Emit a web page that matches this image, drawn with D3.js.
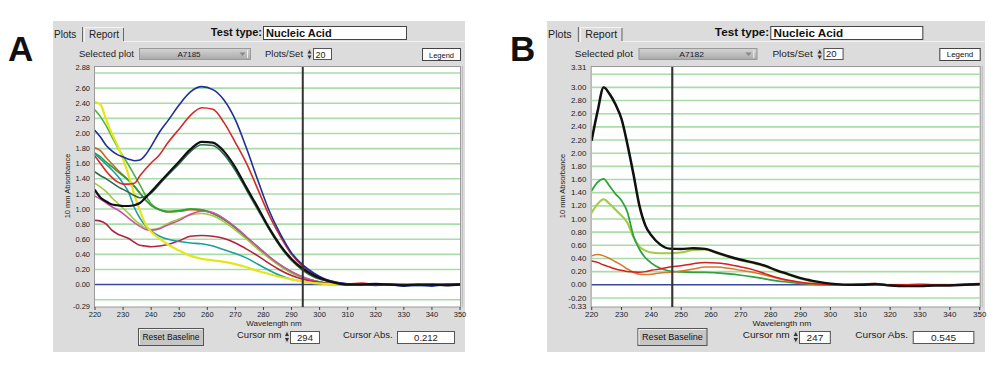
<!DOCTYPE html>
<html><head><meta charset="utf-8">
<script src="https://cdn.jsdelivr.net/npm/d3@7"></script>
<style>body{margin:0;background:#fff;} svg{display:block;font-family:"Liberation Sans",Arial,sans-serif;}</style>
</head><body>
<svg id="c" width="1000" height="371"></svg>
<script>
// ---------------- DATA ----------------
const wavelengths = [220,222,224,226,228,230,232,234,236,238,240,243,246,250,254,258,262,266,270,274,278,282,286,290,294,298,302,306,310,315,320,325,330,335,340,345,350];
const xTickLabels = [220,230,240,250,260,270,280,290,300,310,320,330,340,350];

// Panel A
const yTickLabelsA = [2.88,2.60,2.40,2.20,2.00,1.80,1.60,1.40,1.20,1.00,0.80,0.60,0.40,0.20,0.00,-0.29];
const gridLinesA = [-0.2,0.2,0.4,0.6,0.8,1.0,1.2,1.4,1.6,1.8,2.0,2.2,2.4,2.6,2.8];
const orangeA  = [1.81,1.77,1.68,1.60,1.52,1.45,1.38,1.30,1.21,1.12, 1.05,0.99,0.96,0.97,0.99,0.98,0.94,0.86,0.75, 0.62,0.49,0.36,0.25,0.16,0.09,0.05,0.02,0.01, 0.00,0.00,0.00,0.00,0.00,0.00,0.00,0.00,0.00];
const greenA   = [2.31,2.22,2.10,1.96,1.82,1.70,1.58,1.45,1.32,1.18, 1.07,0.99,0.96,0.97,1.00,0.99,0.95,0.87,0.76, 0.63,0.50,0.37,0.26,0.17,0.10,0.05,0.02,0.01, 0.00,0.00,0.00,0.01,0.00,0.00,0.00,0.00,0.00];
const green2A  = [1.74,1.69,1.62,1.56,1.50,1.44,1.38,1.30,1.21,1.12, 1.05,0.99,0.97,0.98,1.00,0.99,0.94,0.86,0.75, 0.62,0.49,0.36,0.25,0.16,0.09,0.05,0.02,0.01, 0.00,0.00,0.00,0.00,0.00,0.00,0.00,0.00,0.00];
const limeA    = [1.34,1.29,1.23,1.15,1.08,1.01,0.94,0.86,0.80,0.75, 0.73,0.75,0.81,0.87,0.92,0.94,0.91,0.83,0.72, 0.60,0.47,0.35,0.24,0.15,0.09,0.05,0.02,0.01, 0.00,0.00,0.00,0.00,0.00,0.00,0.00,0.00,0.00];
const pinkA    = [1.17,1.13,1.08,1.03,0.99,0.94,0.88,0.82,0.77,0.73, 0.72,0.74,0.79,0.85,0.93,0.97,0.95,0.87,0.76, 0.63,0.50,0.37,0.26,0.17,0.10,0.05,0.02,0.01, 0.00,0.00,0.00,0.00,0.00,0.00,0.00,0.00,0.00];
const crimsonA = [0.85,0.84,0.80,0.72,0.67,0.64,0.61,0.56,0.52,0.51, 0.50,0.51,0.53,0.58,0.64,0.65,0.64,0.61,0.55, 0.47,0.38,0.28,0.19,0.12,0.07,0.04,0.02,0.01, 0.00,0.00,0.00,0.00,0.00,0.00,0.00,0.00,0.00];
const tealA    = [1.73,1.66,1.59,1.52,1.44,1.34,1.22,1.02,0.88,0.78, 0.71,0.64,0.60,0.57,0.55,0.54,0.51,0.46,0.41, 0.35,0.27,0.19,0.12,0.07,0.04,0.02,0.01,0.00, 0.00,0.00,0.00,0.00,0.00,0.00,0.00,0.00,0.00];
const yellowA  = [2.42,2.38,2.18,2.00,1.84,1.66,1.44,1.19,0.98,0.80, 0.70,0.61,0.53,0.45,0.38,0.34,0.32,0.30,0.27, 0.23,0.18,0.14,0.10,0.07,0.04,0.02,0.01,0.00, 0.00,0.00,0.00,0.00,0.00,0.00,0.00,0.00,0.00];
const dkgreenA = [1.49,1.44,1.40,1.35,1.30,1.26,1.22,1.18,1.15,1.17, 1.21,1.33,1.45,1.60,1.76,1.85,1.84,1.72,1.51, 1.25,0.99,0.73,0.50,0.32,0.19,0.10,0.05,0.02, 0.00,0.01,0.00,0.00,0.00,-0.01,0.00,0.00,0.00];
const redA     = [1.70,1.60,1.50,1.42,1.36,1.33,1.33,1.34,1.44,1.53, 1.61,1.72,1.88,2.06,2.24,2.34,2.32,2.14,1.88, 1.60,1.26,0.92,0.64,0.40,0.24,0.14,0.07,0.03, 0.01,0.02,0.00,0.01,-0.01,0.00,-0.01,0.01,0.00];
const blueA    = [2.04,1.95,1.84,1.77,1.72,1.69,1.66,1.64,1.65,1.72, 1.83,2.02,2.17,2.38,2.55,2.62,2.58,2.44,2.18, 1.80,1.38,0.98,0.67,0.42,0.26,0.15,0.07,0.03, 0.01,0.00,-0.01,0.00,-0.02,-0.01,-0.02,0.00,0.01];
const blackA   = [1.25,1.15,1.10,1.06,1.05,1.04,1.04,1.05,1.08,1.15, 1.23,1.35,1.47,1.63,1.79,1.89,1.88,1.76,1.55, 1.28,1.02,0.75,0.52,0.34,0.21,0.12,0.06,0.02, 0.00,0.00,0.01,0.00,-0.01,0.00,0.00,-0.01,0.00];

// Panel B
const yTickLabelsB = [3.31,3.00,2.80,2.60,2.40,2.20,2.00,1.80,1.60,1.40,1.20,1.00,0.80,0.60,0.40,0.20,0.00,-0.20,-0.33];
const gridLinesB = [-0.2,0.2,0.4,0.6,0.8,1.0,1.2,1.4,1.6,1.8,2.0,2.2,2.4,2.6,2.8,3.0,3.2];
const limeB    = [1.10,1.23,1.30,1.23,1.14,1.05,0.94,0.72,0.58,0.52, 0.49,0.48,0.48,0.49,0.53,0.535,0.48,0.42,0.37, 0.33,0.28,0.21,0.15,0.09,0.05,0.02,0.01,0.00, 0.00,0.00,0.00,0.00,0.00,0.00,0.00,0.00,0.00];
const dkgreenB = [1.43,1.56,1.61,1.50,1.38,1.28,1.10,0.74,0.54,0.41, 0.33,0.25,0.21,0.195,0.19,0.19,0.18,0.165,0.145, 0.12,0.09,0.06,0.04,0.02,0.01,0.00,0.00,0.00, 0.00,0.00,0.00,0.00,0.00,0.00,0.00,0.00,0.00];
const orangeB  = [0.44,0.46,0.44,0.40,0.35,0.30,0.24,0.19,0.16,0.155, 0.16,0.18,0.19,0.21,0.24,0.27,0.27,0.25,0.22, 0.19,0.15,0.10,0.06,0.03,0.01,0.00,0.00,0.00, 0.01,0.02,0.00,0.00,0.00,0.00,0.00,0.00,0.00];
const redB     = [0.36,0.34,0.30,0.27,0.24,0.22,0.20,0.195,0.19,0.20, 0.22,0.24,0.27,0.29,0.32,0.34,0.33,0.31,0.27, 0.23,0.17,0.11,0.07,0.04,0.02,0.01,0.00,0.00, 0.01,0.02,0.00,0.00,0.01,0.00,0.00,0.01,0.02];
const blackB   = [2.20,2.64,3.00,2.90,2.74,2.52,2.13,1.68,1.20,0.90, 0.75,0.61,0.55,0.545,0.555,0.545,0.49,0.43,0.38, 0.34,0.29,0.22,0.16,0.10,0.06,0.03,0.01,0.00, 0.00,0.01,-0.01,-0.02,-0.02,-0.01,-0.01,0.00,0.01];

const panelA = {
  letter: "A", plotId: "A7185", cursorNm: 294, cursorAbs: "0.212",
  yMin: -0.29, yMax: 2.88, ticks: yTickLabelsA, grid: gridLinesA,
  series: [
    {v: orangeA, c: "#c8642a", w: 1.6}, {v: greenA, c: "#4cb43c", w: 1.6}, {v: green2A, c: "#2aa036", w: 1.6},
    {v: limeA, c: "#9ccc3c", w: 1.6}, {v: pinkA, c: "#cc4fa8", w: 1.6}, {v: crimsonA, c: "#b3233f", w: 1.6},
    {v: tealA, c: "#1a9e9e", w: 1.6}, {v: yellowA, c: "#e6e41a", w: 2.2}, {v: dkgreenA, c: "#2e6a4e", w: 1.6},
    {v: redA, c: "#d42a2a", w: 1.6}, {v: blueA, c: "#1f2f9a", w: 1.6}, {v: blackA, c: "#111111", w: 2.2}
  ]
};
const panelB = {
  letter: "B", plotId: "A7182", cursorNm: 247, cursorAbs: "0.545",
  yMin: -0.33, yMax: 3.31, ticks: yTickLabelsB, grid: gridLinesB,
  series: [
    {v: limeB, c: "#a0cc40", w: 2.0}, {v: dkgreenB, c: "#30a040", w: 1.7}, {v: orangeB, c: "#d8782c", w: 1.5},
    {v: redB, c: "#d42020", w: 1.5}, {v: blackB, c: "#111111", w: 2.4}
  ]
};

// ---------------- DRAW ----------------
const svg = d3.select("#c");
const defs = svg.append("defs");
const grad = defs.append("linearGradient").attr("id","dd").attr("x1",0).attr("x2",0).attr("y1",0).attr("y2",1);
grad.append("stop").attr("offset","0").attr("stop-color","#d4d4d4");
grad.append("stop").attr("offset","1").attr("stop-color","#a9a9a9");
defs.append("clipPath").attr("id","clipPlot").append("rect").attr("x",95).attr("y",67).attr("width",365).attr("height",240);

function spinner(g, x, y, h) {
  g.append("rect").attr("x", x).attr("y", y).attr("width", 4).attr("height", h).attr("fill", "#cfcfcf");
  g.append("path").attr("d", `M${x},${y+h/2-1} L${x+4},${y+h/2-1} L${x+2},${y+1} Z`).attr("fill", "#333");
  g.append("path").attr("d", `M${x},${y+h/2+1} L${x+4},${y+h/2+1} L${x+2},${y+h-1} Z`).attr("fill", "#333");
}

function drawPanel(g, cfg) {
  g.append("rect").attr("x", 53).attr("y", 21).attr("width", 412).attr("height", 331).attr("fill", "#dcdcdc");
  g.append("line").attr("x1", 124).attr("x2", 465).attr("y1", 41.5).attr("y2", 41.5).attr("stroke", "#f2f2f2");
  g.append("line").attr("x1", 82.5).attr("x2", 82.5).attr("y1", 27).attr("y2", 42).attr("stroke", "#6a6a6a");
  g.append("path").attr("d", "M84.5,42 L84.5,27.5 L123,27.5").attr("fill", "none").attr("stroke", "#f4f4f4");
  g.append("line").attr("x1", 123.5).attr("x2", 123.5).attr("y1", 28).attr("y2", 41).attr("stroke", "#6a6a6a");
  g.append("text").attr("x", 54).attr("y", 38).attr("font-size", 10).attr("fill", "#222").text("Plots");
  g.append("text").attr("x", 89).attr("y", 38).attr("font-size", 10).attr("fill", "#222").text("Report");
  g.append("text").attr("x", 262).attr("y", 36).attr("text-anchor", "end").attr("font-size", 11).attr("font-weight", "bold").attr("fill", "#111").text("Test type:");
  g.append("rect").attr("x", 263.5).attr("y", 26.5).attr("width", 143).attr("height", 13).attr("fill", "#fff").attr("stroke", "#444");
  g.append("text").attr("x", 266).attr("y", 37).attr("font-size", 11).attr("font-weight", "bold").attr("fill", "#111").text("Nucleic Acid");
  g.append("text").attr("x", 79).attr("y", 57).attr("font-size", 9.5).attr("fill", "#222").text("Selected plot");
  g.append("rect").attr("x", 139.5).attr("y", 48.5).attr("width", 111).attr("height", 11).attr("fill", "url(#dd)").attr("stroke", "#999");
  g.append("text").attr("x", 189).attr("y", 57).attr("text-anchor", "middle").attr("font-size", 8).attr("fill", "#222").text(cfg.plotId);
  g.append("path").attr("d", "M239.5,52.5 L245.5,52.5 L242.5,56 Z").attr("fill", "#888");
  g.append("line").attr("x1", 247.5).attr("x2", 247.5).attr("y1", 50).attr("y2", 58).attr("stroke", "#eee");
  g.append("text").attr("x", 265).attr("y", 57).attr("font-size", 9.5).attr("fill", "#222").text("Plots/Set");
  spinner(g, 307.5, 49, 11);
  g.append("rect").attr("x", 313.5).attr("y", 48.5).attr("width", 18).attr("height", 11).attr("fill", "#fff").attr("stroke", "#555");
  g.append("text").attr("x", 315.5).attr("y", 57.5).attr("font-size", 9).attr("fill", "#222").text("20");
  g.append("rect").attr("x", 422.5).attr("y", 48.5).attr("width", 38).attr("height", 12).attr("fill", "#fff").attr("stroke", "#444");
  g.append("text").attr("x", 441.5).attr("y", 57.5).attr("text-anchor", "middle").attr("font-size", 7.5).attr("fill", "#111").text("Legend");

  const x = d3.scaleLinear().domain([220, 350]).range([95, 460]);
  const y = d3.scaleLinear().domain([cfg.yMin, cfg.yMax]).range([306.5, 67]);
  g.append("rect").attr("x", 94.5).attr("y", 66.5).attr("width", 366).attr("height", 240.5).attr("fill", "#fff").attr("stroke", "#9a9a9a");
  g.append("line").attr("x1", 462.5).attr("x2", 462.5).attr("y1", 66).attr("y2", 307).attr("stroke", "#bdbdbd");
  g.selectAll(null).data(cfg.grid).enter().append("line")
    .attr("x1", 95).attr("x2", 460).attr("y1", d => y(d)).attr("y2", d => y(d))
    .attr("stroke", "#a8dca8").attr("stroke-width", 1.6);
  g.append("line").attr("x1", 95).attr("x2", 460).attr("y1", y(0)).attr("y2", y(0)).attr("stroke", "#3a48a0").attr("stroke-width", 1.5);

  const line = d3.line().x((d, i) => x(wavelengths[i])).y(d => y(d)).curve(d3.curveMonotoneX);
  const cg = g.append("g").attr("clip-path", "url(#clipPlot)");
  cfg.series.forEach(s => {
    cg.append("path").attr("d", line(s.v)).attr("fill", "none").attr("stroke", s.c)
      .attr("stroke-width", s.w).attr("stroke-linejoin", "round").attr("stroke-linecap", "round");
  });
  g.append("line").attr("x1", x(cfg.cursorNm)).attr("x2", x(cfg.cursorNm)).attr("y1", 67).attr("y2", 307)
    .attr("stroke", "#333").attr("stroke-width", 2);

  g.selectAll(null).data(cfg.ticks).enter().append("text")
    .attr("x", 90).attr("y", d => y(d) + 2.6).attr("text-anchor", "end")
    .attr("font-size", 7.5).attr("fill", "#222").text(d => d.toFixed(2));
  g.append("text").attr("transform", "translate(70,186) rotate(-90)").attr("text-anchor", "middle")
    .attr("font-size", 7.5).attr("fill", "#222").text("10 mm Absorbance");
  g.selectAll(null).data(xTickLabels).enter().append("line")
    .attr("x1", d => x(d)).attr("x2", d => x(d)).attr("y1", 307).attr("y2", 310).attr("stroke", "#444");
  g.selectAll(null).data(xTickLabels).enter().append("text")
    .attr("x", d => x(d)).attr("y", 317).attr("text-anchor", "middle")
    .attr("font-size", 7.5).attr("fill", "#222").text(d => d);
  g.append("text").attr("x", 274).attr("y", 326).attr("text-anchor", "middle").attr("font-size", 8).attr("fill", "#222").text("Wavelength nm");

  g.append("rect").attr("x", 138.5).attr("y", 328.5).attr("width", 65).attr("height", 17).attr("fill", "#c6c6c6").attr("stroke", "#555");
  g.append("path").attr("d", "M139.5,344.5 L139.5,329.5 L202.5,329.5").attr("fill", "none").attr("stroke", "#f0f0f0");
  g.append("text").attr("x", 171).attr("y", 340).attr("text-anchor", "middle").attr("font-size", 8.5).attr("fill", "#111").text("Reset Baseline");
  g.append("text").attr("x", 237).attr("y", 338).attr("font-size", 9.5).attr("fill", "#222").text("Cursor nm");
  spinner(g, 285, 331, 12);
  g.append("rect").attr("x", 290.5).attr("y", 331.5).attr("width", 29).attr("height", 12).attr("fill", "#fff").attr("stroke", "#555");
  g.append("text").attr("x", 305).attr("y", 341).attr("text-anchor", "middle").attr("font-size", 9.5).attr("fill", "#222").text(cfg.cursorNm);
  g.append("text").attr("x", 343).attr("y", 338).attr("font-size", 9.5).attr("fill", "#222").text("Cursor Abs.");
  g.append("rect").attr("x", 397.5).attr("y", 331.5).attr("width", 57).attr("height", 12).attr("fill", "#fff").attr("stroke", "#555");
  g.append("text").attr("x", 426).attr("y", 341).attr("text-anchor", "middle").attr("font-size", 9.5).attr("fill", "#222").text(cfg.cursorAbs);
}

drawPanel(svg.append("g"), panelA);
drawPanel(svg.append("g").attr("transform", "translate(490.7,0) scale(1.063,1)"), panelB);

svg.append("text").attr("x", 8).attr("y", 61).attr("font-size", 35).attr("font-weight", "bold").attr("fill", "#111").text(panelA.letter);
svg.append("text").attr("x", 510).attr("y", 61).attr("font-size", 35).attr("font-weight", "bold").attr("fill", "#111").text(panelB.letter);
</script>
</body></html>
